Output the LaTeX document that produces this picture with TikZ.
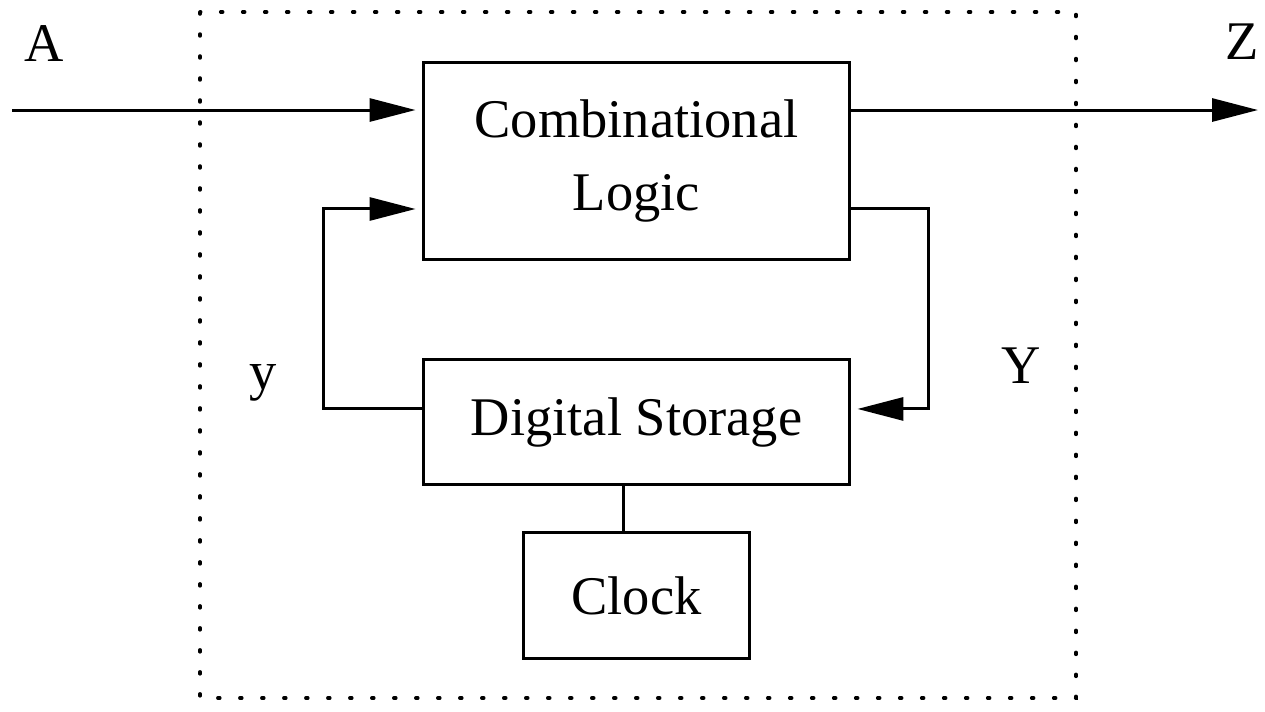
\documentclass[tikz,border=0pt]{standalone}
\usepackage{fontspec}
\setmainfont{Liberation Serif}
\usetikzlibrary{positioning, arrows.meta, calc}

\begin{document}
\begin{tikzpicture}[
    x=0.02cm, y=-0.02cm,
    font=\fontsize{31}{42}\selectfont,
    line width=0.06cm,
    block/.style={
        draw, line width=0.06cm,
        align=center,
        minimum width=8.54cm
    },
    arrow/.style={
        -{Triangle[length=0.92cm, width=0.46cm]},
        shorten >=0.12cm
    },
    wire/.style={line width=0.06cm},
    label/.style={anchor=base, inner sep=0pt},
    frame/.style={
        line width=0.07cm, line cap=round,
        dash pattern=on 0.04cm off 0.4cm
    }
]
\useasboundingbox (0,0) rectangle (1265,711);

% ===================== BOUNDARY =====================
\draw[frame] (200,12) rectangle (1076,698);

% ===================== BLOCKS =====================
\node[block, minimum height=3.96cm] (comb) at (636.5,161)
{Combinational\\Logic};

\node[block, minimum height=2.5cm, below=1.94cm of comb] (store)
{Digital Storage};

\node[draw, minimum width=4.52cm, minimum height=2.52cm,
      below=0.9cm of store] (clock) {Clock};

% ===================== LABELS =====================
\node[label] (lblA) at (44,61) {A};
\node[label] (lblZ) at (1242,59) {Z};
\node[label] (lbly) at (263,389) {y};
\node[label] (lblY) at (1021,383) {Y};

% ===================== HELPER POINTS =====================
% (explicit cm offsets are in page direction: positive = up)
\coordinate (edgeL) at (12,0);
\coordinate (edgeR) at (1258,0);
\coordinate (combIn)  at ($(comb.west)+(0,1.02cm)$);
\coordinate (combOut) at ($(comb.east)+(0,1.02cm)$);
\coordinate (fbIn)    at ($(comb.west)+(0,-0.96cm)$);
\coordinate (fbOut)   at ($(comb.east)+(0,-0.96cm)$);
\coordinate (stIn)    at ($(store.east)+(0,0.27cm)$);
\coordinate (stOut)   at ($(store.west)+(0,0.27cm)$);
\coordinate (inA)  at (combIn -| edgeL);
\coordinate (outZ) at (combOut -| edgeR);
\coordinate (railL) at (323,0);
\coordinate (railR) at (928,0);
\coordinate (clkTap) at ($(store.south)+(-0.27cm,0)$);

% ===================== CONNECTORS =====================
\draw[arrow] (inA) -- (combIn);
\draw[arrow, shorten >=0pt] (combOut) -- (outZ);

% y: storage -> combinational logic
\draw[arrow] (stOut) -- (railL |- stOut) -- (railL |- fbIn) -- (fbIn);

% Y: combinational logic -> storage
\draw[arrow] (fbOut) -- (railR |- fbOut) -- (railR |- stIn) -- (stIn);

% clock line
\draw[wire] (clkTap) -- (clkTap |- clock.north);

\end{tikzpicture}
\end{document}
